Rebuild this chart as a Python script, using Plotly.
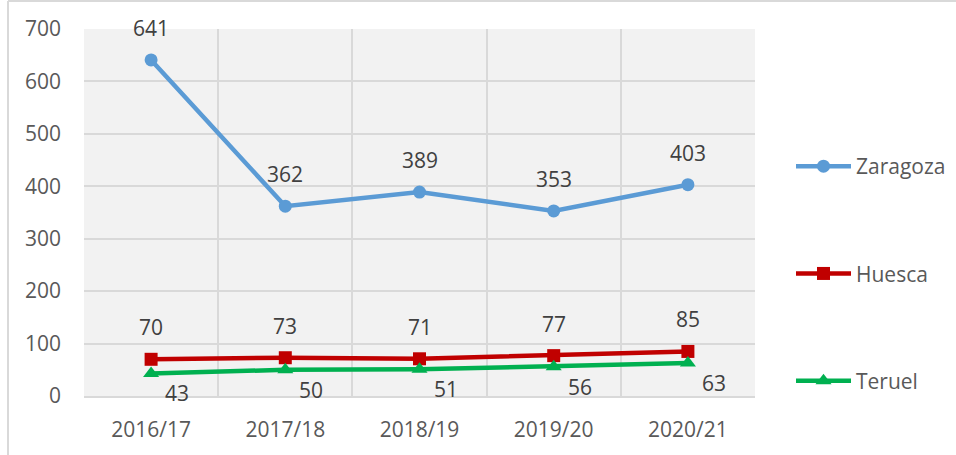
import plotly.graph_objects as go

seasons = ["2016/17", "2017/18", "2018/19", "2019/20", "2020/21"]
zaragoza = [641, 362, 389, 353, 403]
huesca = [70, 73, 71, 77, 85]
teruel = [43, 50, 51, 56, 63]

FONT = "Open Sans"
TXT = "#595959"
FS = 21

series = [
    ("Zaragoza", zaragoza, "#5b9bd5", "circle", 13),
    ("Huesca", huesca, "#c00000", "square", 13),
    ("Teruel", teruel, "#00b050", "triangle-up", 14),
]

fig = go.Figure()
for i, (name, vals, color, sym, msize) in enumerate(series):
    fig.add_trace(go.Scatter(
        x=seasons, y=vals, name=name, mode="lines+markers",
        line=dict(color=color, width=4.5),
        marker=dict(symbol=sym, size=msize, color=color),
        legendgroup=f"g{i}",
    ))

annotations = []
# value labels: above for Zaragoza and Huesca, below-right for Teruel
for vals, xs, ys in [(zaragoza, 0, 32), (huesca, 0, 32), (teruel, 26, -20)]:
    for s, v in zip(seasons, vals):
        annotations.append(dict(
            x=s, y=v, text=str(v), showarrow=False, xshift=xs, yshift=ys,
            font=dict(family=FONT, size=FS, color="#404040"),
        ))

fig.update_layout(
    width=956, height=455,
    margin=dict(l=84, r=201, t=29, b=59, autoexpand=False),
    paper_bgcolor="white",
    plot_bgcolor="#f2f2f2",
    font=dict(family=FONT, size=FS, color=TXT),
    showlegend=True,
    legend=dict(
        x=1 + 36 / 671, xanchor="left", xref="paper",
        y=(396 - 146) / 367, yanchor="top",
        tracegroupgap=77, itemwidth=55,
        font=dict(family=FONT, size=FS, color=TXT),
        bgcolor="rgba(0,0,0,0)",
    ),
    annotations=annotations,
    shapes=[
        dict(type="line", xref="paper", yref="paper",
             x0=(8 - 84) / 671, x1=(8 - 84) / 671, y0=-59 / 367, y1=1 + 28 / 367,
             line=dict(color="#d9d9d9", width=2)),
        dict(type="line", xref="paper", yref="paper",
             x0=(8 - 84) / 671, x1=1 + 201 / 671, y0=1 + 28 / 367, y1=1 + 28 / 367,
             line=dict(color="#d9d9d9", width=2)),
    ],
)

fig.update_xaxes(
    type="category", range=[-0.5, 4.5], tickson="boundaries",
    showgrid=True, gridcolor="#d9d9d9", gridwidth=1.5,
    showline=True, linecolor="#d9d9d9", linewidth=1.5,
    ticks="", ticklabelstandoff=14,
    tickfont=dict(family=FONT, size=FS, color=TXT),
)
fig.update_yaxes(
    range=[0, 700], tickvals=[0, 100, 200, 300, 400, 500, 600, 700],
    showgrid=True, gridcolor="#d9d9d9", gridwidth=1.5,
    zeroline=False, showline=False,
    ticks="", ticklabelstandoff=22,
    tickfont=dict(family=FONT, size=FS, color=TXT),
)

fig.write_html("out.html")
